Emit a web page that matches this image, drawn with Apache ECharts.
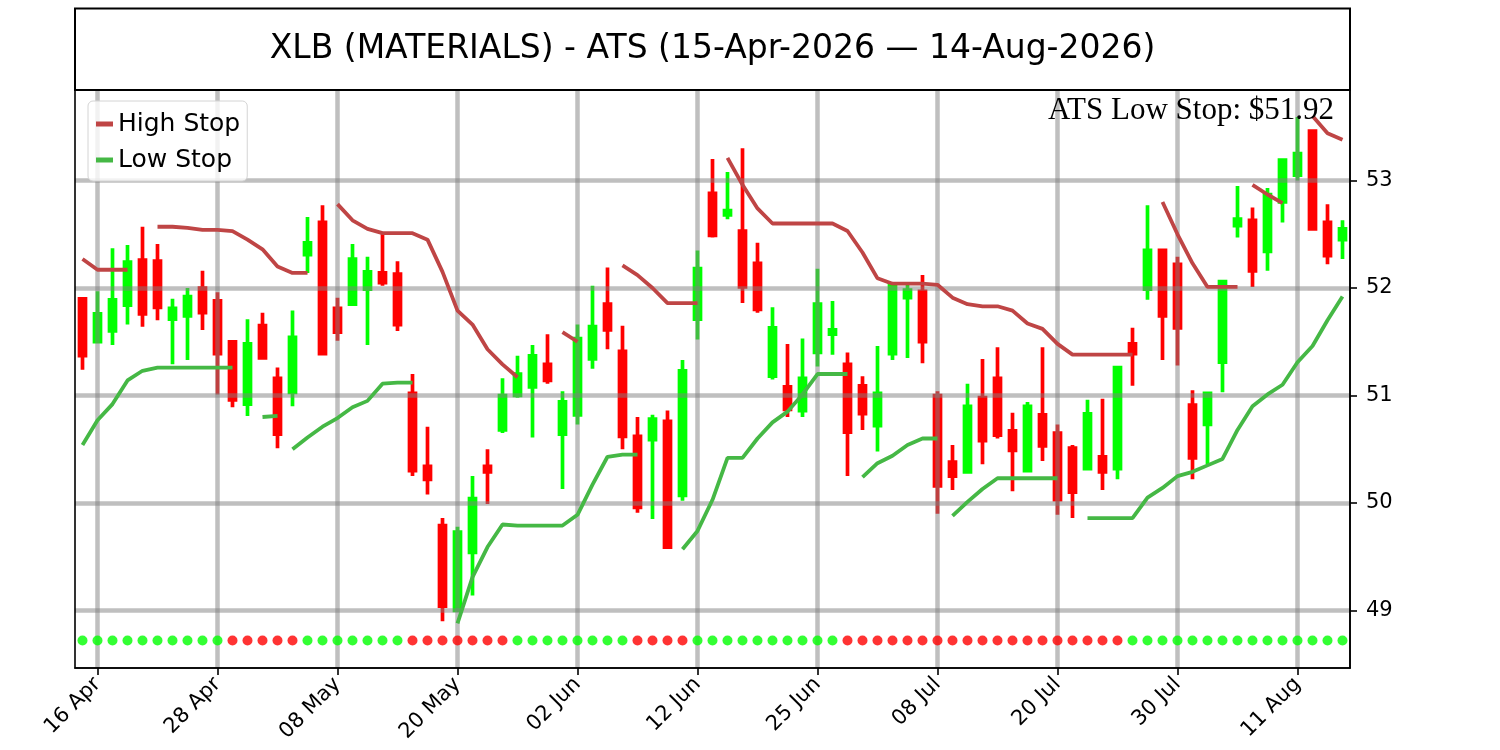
<!DOCTYPE html>
<html>
<head>
<meta charset="utf-8">
<script src="https://cdn.jsdelivr.net/npm/echarts@6/dist/echarts.min.js"></script>
<style>html,body{margin:0;padding:0;background:#fff}#chart{width:1500px;height:750px}</style>
</head>
<body>
<div id="chart"></div>
<script>
const dates = ['15 Apr','16 Apr','17 Apr','20 Apr','21 Apr','22 Apr','23 Apr','24 Apr','27 Apr','28 Apr','29 Apr','30 Apr',
 '01 May','04 May','05 May','06 May','07 May','08 May','11 May','12 May','13 May','14 May','15 May','18 May','19 May','20 May','21 May','22 May','26 May','27 May','28 May','29 May',
 '01 Jun','02 Jun','03 Jun','04 Jun','05 Jun','08 Jun','09 Jun','10 Jun','11 Jun','12 Jun','15 Jun','16 Jun','17 Jun','18 Jun','22 Jun','23 Jun','24 Jun','25 Jun','26 Jun','29 Jun','30 Jun',
 '01 Jul','02 Jul','06 Jul','07 Jul','08 Jul','09 Jul','10 Jul','13 Jul','14 Jul','15 Jul','16 Jul','17 Jul','20 Jul','21 Jul','22 Jul','23 Jul','24 Jul','27 Jul','28 Jul','29 Jul','30 Jul','31 Jul',
 '03 Aug','04 Aug','05 Aug','06 Aug','07 Aug','10 Aug','11 Aug','12 Aug','13 Aug','14 Aug'];

const opens = [51.90,51.50,51.60,51.84,52.26,52.25,51.71,51.74,52.00,51.88,51.50,50.92,51.65,51.16,51.03,
 52.31,52.61,51.81,51.85,51.99,52.14,52.13,51.02,50.34,49.79,49.00,49.54,50.34,50.68,
 51.00,51.08,51.29,50.64,50.82,51.34,51.85,51.41,50.62,50.59,50.76,50.07,51.71,52.88,
 52.68,52.53,52.23,51.18,51.08,50.86,51.40,51.57,51.29,51.09,50.72,51.39,51.91,51.97,
 51.00,50.38,50.29,50.98,51.16,50.67,50.30,50.82,50.65,50.51,50.32,50.43,50.32,51.48,51.99,
 52.35,52.22,50.91,50.73,51.31,52.58,52.63,52.34,52.80,53.05,53.46,52.61,52.45];
const closes = [51.37,51.76,51.89,52.24,51.76,51.82,51.81,51.92,51.77,51.39,50.96,51.48,51.35,50.64,51.54,
 52.42,51.39,51.59,52.27,52.15,52.05,51.66,50.30,50.22,49.04,49.73,50.04,50.29,51.00,
 51.20,51.37,51.14,50.94,51.53,51.64,51.61,50.62,49.96,50.78,49.59,51.23,52.18,52.49,
 52.72,52.01,51.80,51.63,50.87,51.16,51.85,51.61,50.66,50.83,51.02,52.03,51.98,51.50,
 50.16,50.25,50.90,50.58,50.63,50.49,50.90,50.53,50.03,50.10,50.83,50.29,51.26,51.39,52.35,
 51.74,51.63,50.42,51.02,52.06,52.64,52.16,52.87,53.19,53.25,52.55,52.30,52.55];
const lows = [51.24,51.49,51.47,51.66,51.64,51.70,51.29,51.33,51.61,51.01,50.89,50.81,51.34,50.51,50.90,
 52.14,51.38,51.51,51.84,51.47,52.02,51.60,50.25,50.08,48.90,48.99,49.14,49.99,50.65,
 50.98,50.61,51.11,50.13,50.73,51.25,51.43,50.50,49.91,49.85,49.58,50.02,51.52,52.47,
 52.64,51.86,51.77,51.15,50.80,50.80,51.27,51.38,50.25,50.68,50.48,51.33,51.35,51.30,
 49.90,50.12,50.28,50.36,50.60,50.11,50.29,50.39,49.89,49.86,50.31,50.12,50.22,51.09,51.89,
 51.33,51.28,50.22,50.36,51.03,52.47,52.01,52.16,52.61,53.00,52.54,52.22,52.27];
const highs = [51.91,51.97,52.37,52.40,52.57,52.41,51.90,52.00,52.16,51.96,51.51,51.71,51.77,51.26,51.79,
 52.66,52.77,51.91,52.41,52.29,52.52,52.25,51.20,50.71,49.86,49.78,50.25,50.50,51.16,
 51.37,51.47,51.57,51.04,51.66,52.02,52.19,51.65,50.80,50.82,50.86,51.33,52.35,53.20,
 53.08,53.30,52.42,51.82,51.48,51.53,52.18,51.88,51.40,51.18,51.46,52.04,52.03,52.12,
 51.04,50.54,51.11,51.34,51.45,50.84,50.94,51.45,50.73,50.54,50.96,50.97,51.27,51.63,52.77,
 52.36,52.29,51.05,51.03,52.07,52.95,52.75,52.93,53.20,53.59,53.47,52.78,52.63];

const highStop = [52.27,52.17,52.17,52.17,null,52.57,52.57,52.56,52.54,52.54,52.53,52.45,52.36,52.20,52.14,
 52.14,null,52.78,52.63,52.55,52.51,52.51,52.51,52.45,52.15,51.79,51.66,51.43,51.29,
 51.17,null,null,51.59,51.50,null,null,52.21,52.12,52.00,51.86,51.86,51.86,null,
 53.21,52.96,52.74,52.60,52.60,52.60,52.60,52.60,52.53,52.33,52.09,52.04,52.04,52.04,
 52.03,51.91,51.85,51.83,51.83,51.79,51.67,51.62,51.48,51.38,51.38,51.38,51.38,51.38,null,
 52.80,52.50,52.23,52.01,52.01,52.01,52.96,52.87,52.79,null,53.60,53.44,53.38];
const highStopBreaks = [78];

const lowStop = [50.54,50.77,50.92,51.14,51.23,51.26,51.26,51.26,51.26,51.26,51.26,null,50.80,50.81,50.50,
 50.61,50.71,50.79,50.89,50.95,51.11,51.12,51.12,null,null,48.88,49.31,49.59,49.80,
 49.79,49.79,49.79,49.79,49.89,50.17,50.43,50.45,50.45,null,null,49.57,49.74,50.03,
 50.42,50.42,50.60,50.75,50.85,51.01,51.20,51.20,51.20,50.24,50.37,50.44,50.54,50.60,
 50.60,49.88,50.01,50.13,50.23,50.23,50.23,50.23,50.23,null,49.86,49.86,49.86,49.86,50.05,
 50.14,50.25,50.29,50.35,50.41,50.68,50.90,51.01,51.10,51.31,51.46,51.70,51.92];
const lowStopBreaks = [14,52,58];

// 1 = green (long), 0 = red (short)
const atsTrend = [1,1,1,1,1,1,1,1,1,1,0,0,0,0,0,
 1,1,1,1,1,1,1,0,0,0,0,0,0,0,
 1,1,1,1,1,1,1,1,0,0,0,0,1,1,
 1,1,1,1,1,1,1,1,0,0,0,0,0,0,
 0,0,0,0,0,0,0,0,0,0,0,0,0,1,1,
 1,1,1,1,1,1,1,1,1,1,1,1,1];
const dotLevel = 48.72;

const xTickLabels = ['16 Apr','28 Apr','08 May','20 May','02 Jun','12 Jun','25 Jun','08 Jul','20 Jul','30 Jul','11 Aug'];
const yTicks = [49,50,51,52,53];

const titleText = 'XLB (MATERIALS) - ATS (15-Apr-2026 \u2014 14-Aug-2026)';

const HIGH_COLOR = '#bf4545';
const LOW_COLOR = '#45b845';
const UP = '#00ff00';
const DOWN = '#ff0000';

function segments(values, breaks) {
  const segs = [];
  let cur = null;
  values.forEach((v, i) => {
    if (v == null) { cur = null; return; }
    if (!cur || breaks.indexOf(i) >= 0) {
      cur = new Array(values.length).fill(null);
      segs.push(cur);
    }
    cur[i] = v;
  });
  return segs;
}

const showTick = (idx) => xTickLabels.indexOf(dates[idx]) >= 0;

const gridLine = { show: true, lineStyle: { color: 'rgba(128,128,128,0.5)', width: 4.5 } };

const series = [];
series.push({
  type: 'candlestick',
  data: dates.map((d, i) => [opens[i], closes[i], lows[i], highs[i]]),
  barWidth: 7,
  itemStyle: { color: UP, color0: DOWN, borderColor: UP, borderColor0: DOWN, borderWidth: 3.7 },
  z: 2,
  silent: true
});
segments(highStop, highStopBreaks).forEach(seg => series.push({
  type: 'line', name: 'High Stop', data: seg, symbol: 'none', showSymbol: false, connectNulls: false,
  lineStyle: { color: HIGH_COLOR, width: 3.8 }, itemStyle: { color: HIGH_COLOR }, z: 4, silent: true
}));
segments(lowStop, lowStopBreaks).forEach(seg => series.push({
  type: 'line', name: 'Low Stop', data: seg, symbol: 'none', showSymbol: false, connectNulls: false,
  lineStyle: { color: LOW_COLOR, width: 3.8 }, itemStyle: { color: LOW_COLOR }, z: 4, silent: true
}));
series.push({
  type: 'scatter',
  data: atsTrend.map((t, i) => ({ value: [i, dotLevel], itemStyle: { color: t ? UP : DOWN } })),
  symbolSize: 10,
  z: 5,
  silent: true
});

const chart = echarts.init(document.getElementById('chart'), null, { renderer: 'canvas' });
chart.setOption({
  animation: false,
  backgroundColor: '#ffffff',
  grid: { left: 75, right: 150, top: 90, bottom: 82, containLabel: false, outerBoundsMode: 'none' },
  legend: {
    data: ['High Stop', 'Low Stop'],
    orient: 'vertical',
    left: 88, top: 101,
    icon: 'rect', itemWidth: 17, itemHeight: 5, itemGap: 6, itemTextGap: 1,
    padding: [8, 7, 6, 8],
    backgroundColor: 'rgba(255,255,255,0.8)',
    borderColor: '#d4d4d4', borderWidth: 1, borderRadius: 5,
    textStyle: { fontFamily: 'DejaVu Sans', fontSize: 25, color: '#000', lineHeight: 30 },
    selectedMode: false,
    z: 8
  },
  xAxis: {
    type: 'category',
    data: dates,
    boundaryGap: true,
    z: 3,
    axisLine: { show: true, lineStyle: { color: '#000', width: 1.6 } },
    axisTick: { show: true, interval: (i) => showTick(i), alignWithLabel: true, length: 7, lineStyle: { color: '#000', width: 1.6 } },
    axisLabel: { show: true, interval: (i) => showTick(i), rotate: 45, margin: 13, fontFamily: 'DejaVu Sans', fontSize: 21, color: '#000' },
    splitLine: Object.assign({ interval: (i) => showTick(i), alignWithLabel: true }, gridLine)
  },
  yAxis: {
    type: 'value',
    position: 'right',
    min: 48.465,
    max: 53.842,
    z: 3,
    axisLine: { show: true, lineStyle: { color: '#000', width: 1.6 } },
    axisTick: { show: true, customValues: yTicks, length: 7, lineStyle: { color: '#000', width: 1.6 } },
    axisLabel: { show: true, customValues: yTicks, margin: 16, fontFamily: 'DejaVu Sans', fontSize: 21, color: '#000' },
    splitLine: gridLine
  },
  graphic: [
    { type: 'rect', shape: { x: 75, y: 8.5, width: 1275, height: 81.5 }, style: { fill: '#fff', stroke: '#000', lineWidth: 2 }, z: 10 },
    { type: 'text', x: 712.5, y: 49.5, style: { text: titleText, fontFamily: 'DejaVu Sans', fontSize: 33, fill: '#000', textAlign: 'center', textVerticalAlign: 'middle', verticalAlign: 'middle' }, z: 11 },
    { type: 'rect', shape: { x: 75, y: 90, width: 1275, height: 578 }, style: { fill: 'none', stroke: '#000', lineWidth: 1.6 }, z: 10, silent: true },
    { type: 'text', x: 1334, y: 111, style: { text: 'ATS Low Stop: $' + lowStop[lowStop.length - 1].toFixed(2), fontFamily: 'Liberation Serif', fontSize: 31, fill: '#000', textAlign: 'right', textVerticalAlign: 'middle', verticalAlign: 'middle' }, z: 11 }
  ],
  series: series
});
</script>
</body>
</html>
